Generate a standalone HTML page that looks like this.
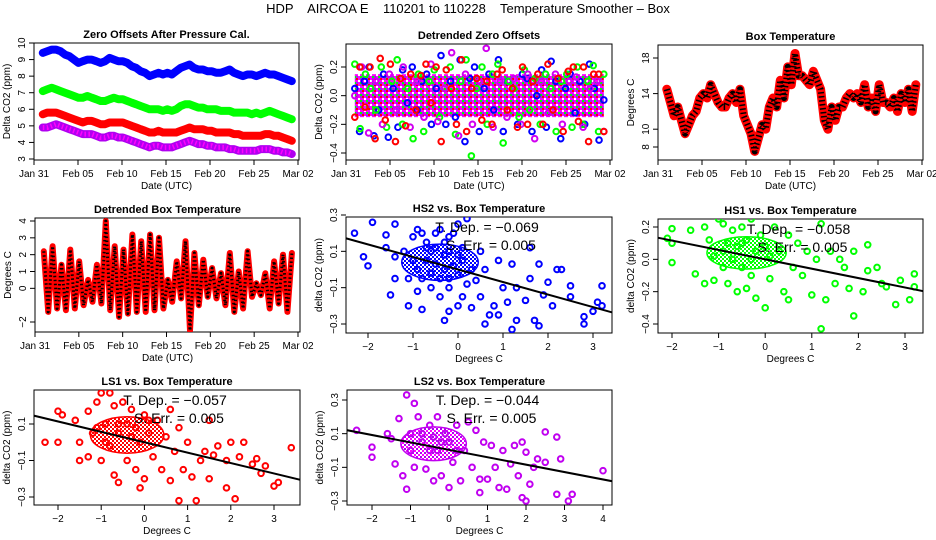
<!DOCTYPE html>
<html><head><meta charset="utf-8">
<style>
html,body{margin:0;padding:0;background:#fff;}
svg{display:block;font-family:"Liberation Sans",sans-serif;}
</style></head>
<body>
<svg id="chart" width="936" height="540" viewBox="0 0 936 540" xmlns="http://www.w3.org/2000/svg">
<defs>
<pattern id="chkPurple" width="6" height="6" patternUnits="userSpaceOnUse"><rect width="6" height="6" fill="#ff00ff"/><rect width="2" height="2" fill="#a020f0"/><rect x="4" y="2" width="2" height="2" fill="#fff"/><rect x="2" y="4" width="2" height="2" fill="#a020f0"/><rect x="2" y="0" width="2" height="2" fill="#ff0000"/><rect x="0" y="4" width="2" height="2" fill="#00ff00"/></pattern>
<pattern id="chkBlue" width="4" height="4" patternUnits="userSpaceOnUse"><rect width="4" height="4" fill="#fff"/><rect width="2" height="2" fill="#0000ff"/><rect x="2" y="2" width="2" height="2" fill="#0000ff"/></pattern>
<pattern id="chkGreen" width="4" height="4" patternUnits="userSpaceOnUse"><rect width="4" height="4" fill="#fff"/><rect width="2" height="2" fill="#00ff00"/><rect x="2" y="2" width="2" height="2" fill="#00ff00"/></pattern>
<pattern id="chkRed" width="4" height="4" patternUnits="userSpaceOnUse"><rect width="4" height="4" fill="#fff"/><rect width="2" height="2" fill="#ff0000"/><rect x="2" y="2" width="2" height="2" fill="#ff0000"/></pattern>
<pattern id="chkPurp2" width="4" height="4" patternUnits="userSpaceOnUse"><rect width="4" height="4" fill="#fff"/><rect width="2" height="2" fill="#b000f0"/><rect x="2" y="2" width="2" height="2" fill="#ff00ff"/></pattern>
</defs>
<text x="468" y="13" font-size="13" text-anchor="middle" style="white-space:pre">HDP    AIRCOA E    110201 to 110228    Temperature Smoother – Box</text>
</svg>
<script>
// ---------- data ----------
const tsBlue = [9.4,9.5,9.6,9.6,9.5,9.3,9.2,9.0,8.8,8.9,9.0,9.0,8.9,8.8,8.9,9.1,9.0,8.9,8.9,8.8,8.6,8.5,8.3,8.2,8.0,8.1,8.2,8.1,8.2,8.1,8.3,8.5,8.6,8.7,8.5,8.4,8.4,8.3,8.3,8.2,8.2,8.3,8.4,8.2,8.1,8.0,8.1,8.1,8.0,8.1,8.2,8.1,8.1,8.0,7.9,7.8,7.7];
const tsGreen = [7.1,7.2,7.3,7.2,7.1,7.0,6.9,6.8,6.7,6.7,6.8,6.7,6.6,6.5,6.5,6.6,6.7,6.6,6.6,6.5,6.4,6.3,6.2,6.1,6.0,6.0,6.0,5.9,6.0,5.9,6.0,6.2,6.3,6.3,6.2,6.1,6.1,6.0,6.0,6.0,5.9,5.9,5.9,5.8,5.8,5.8,5.8,5.7,5.8,5.7,5.8,5.9,5.8,5.7,5.6,5.5,5.4];
const tsRed = [5.7,5.8,5.8,5.8,5.7,5.6,5.5,5.4,5.3,5.2,5.3,5.3,5.2,5.1,5.1,5.2,5.2,5.2,5.2,5.1,5.0,4.9,4.8,4.7,4.6,4.6,4.7,4.6,4.6,4.6,4.6,4.7,4.8,4.9,4.8,4.8,4.8,4.7,4.7,4.6,4.6,4.6,4.6,4.5,4.5,4.4,4.4,4.4,4.4,4.4,4.5,4.5,4.4,4.4,4.3,4.2,4.1];
const tsPurple = [4.9,4.9,5.0,5.1,5.0,4.9,4.8,4.7,4.6,4.5,4.5,4.5,4.4,4.3,4.3,4.4,4.4,4.3,4.3,4.2,4.1,4.0,3.9,3.8,3.7,3.8,3.8,3.7,3.7,3.7,3.8,3.9,4.0,4.1,4.0,3.9,3.9,3.8,3.8,3.7,3.7,3.7,3.6,3.6,3.5,3.5,3.5,3.5,3.5,3.6,3.6,3.6,3.5,3.5,3.4,3.4,3.3];
const dzBlue = [0.05,-0.25,0.1,0.2,-0.28,-0.1,0.15,-0.29,0.05,-0.22,0.18,-0.05,0.2,-0.1,0.1,0.15,-0.2,0.05,0.28,-0.2,0.1,-0.15,0.25,-0.32,0.12,0.2,-0.25,0.05,0.15,-0.1,0.25,-0.25,0.1,0.05,-0.2,0.15,0.12,-0.25,0.0,0.18,-0.22,0.24,0.1,-0.3,0.05,0.15,-0.12,0.1,-0.2,0.22,0.05,-0.31,-0.03];
const dzGreen = [0.22,-0.23,0.15,0.05,-0.1,0.2,-0.22,0.1,0.25,-0.2,0.05,-0.3,0.15,-0.25,0.1,0.18,-0.15,0.05,0.2,-0.27,0.1,0.25,-0.42,0.05,0.2,-0.2,0.15,0.22,-0.33,0.1,0.05,-0.15,0.18,-0.1,0.12,-0.2,0.15,0.05,-0.25,0.1,0.15,-0.22,0.2,-0.2,0.1,0.21,-0.25,0.15];
const dzRed = [-0.15,0.2,-0.08,0.2,-0.3,0.26,-0.17,0.22,-0.32,0.12,-0.21,0.15,-0.1,0.14,0.22,-0.05,0.2,-0.32,0.18,0.05,-0.2,0.25,-0.25,0.05,0.12,-0.17,0.1,-0.2,0.15,0.18,-0.1,0.05,-0.22,0.2,-0.2,0.1,0.15,-0.2,0.22,-0.1,0.12,-0.25,0.17,0.2,-0.18,0.2,-0.32,0.15,0.15,-0.25];
const dzPurple = [0.0,0.2,-0.26,0.1,-0.2,0.15,-0.1,0.2,-0.22,0.1,-0.15,0.22,-0.18,0.05,0.3,-0.28,0.15,-0.2,0.1,0.33,-0.22,0.1,-0.15,0.12,-0.2,0.15,-0.3,0.1,-0.12,0.15,-0.2,0.1,0.13,-0.22,0.05,0.1,-0.25];
const boxTemp = [14.5,13,11.5,12.5,11,9.5,10.5,11.5,12,13.5,14,13.5,15,14,13,12.5,12.5,13.5,14,13,14.5,11.5,10.5,9.5,7.5,9,10.5,10,12.5,13.5,12.5,15.5,13.5,17,15,18.5,16,16,15.5,15,16.5,15.5,14.5,11,10,12.5,11,12.5,12.5,13.5,14,13.5,14,13,15,12.5,13.5,12,15,13,13,12.5,13.5,12,14,13,14.5,12,15];
const detTemp = [2.2,-1.4,2.5,-1.2,1.4,-1.3,2.3,-1.2,1.6,-1.0,0.5,-0.8,1.4,-0.9,4.0,-1.3,2.5,-1.7,2.3,-1.5,3.2,-1.4,2.8,-1.4,3.2,-1.3,3.0,-1.2,0.5,-0.8,1.6,-0.6,2.8,-2.5,2.1,-1.0,1.7,-0.5,1.2,-0.6,0.9,-1.0,2.1,-1.4,1.0,-1.2,2.2,-0.5,0.3,-0.4,0.9,-1.2,1.6,-0.9,2.0,-1.4,2.1];
const dateTicks = ["Jan 31","Feb 05","Feb 10","Feb 15","Feb 20","Feb 25","Mar 02"];
const dateTickDays = [0,5,10,15,20,25,30];

const hs2X = [-2.3,-1.9,-2.1,-2.0,-1.6,-1.6,-1.4,-1.4,-1.4,-1.5,-1.1,-0.8,-1.2,-1.0,-0.9,-0.8,-0.7,-0.6,-0.5,-0.4,-0.3,-0.2,-0.1,0.0,0.2,-1.0,-0.9,-0.8,-0.7,-0.6,-0.5,-0.4,-0.3,-0.2,-0.1,0.0,0.1,0.2,-0.6,-0.4,-0.2,0.1,-0.3,-0.2,0.0,0.3,0.5,0.5,0.6,0.6,0.7,0.8,0.9,1.0,1.1,1.2,1.3,1.3,1.5,1.6,1.6,1.7,1.8,1.8,1.9,2.0,2.1,2.2,2.3,2.5,2.5,2.8,2.8,3.0,3.1,3.2,3.2,1.2,0.9,-0.5,-0.7,-0.3,0.1,0.3,0.4,-1.1,-0.9,0.0,-0.2];
const hs2Y = [0.2,0.26,0.07,0.02,0.19,0.12,0.25,0.07,-0.05,-0.14,-0.2,-0.22,0.1,0.18,0.22,0.2,0.15,0.1,0.2,0.22,0.15,0.1,0.2,0.25,0.28,0.05,0.0,-0.05,0.05,-0.02,0.03,-0.05,0.0,-0.05,0.02,-0.03,0.05,-0.08,-0.1,-0.15,-0.1,-0.15,-0.28,-0.23,-0.2,-0.21,-0.15,0.1,0.0,-0.3,-0.25,-0.2,0.05,-0.1,-0.18,0.03,-0.1,-0.28,-0.17,-0.05,0.12,-0.28,0.03,-0.31,-0.14,-0.07,-0.2,0.0,0.0,-0.09,-0.15,-0.26,-0.3,-0.23,-0.18,-0.09,-0.2,-0.33,-0.25,0.12,0.12,0.08,0.12,0.0,-0.06,-0.05,-0.12,0.08,0.18];
const hs1X = [-2.1,-2.0,-2.0,-2.0,-1.6,-1.5,-1.3,-1.3,-1.2,-1.1,-1.0,-0.9,-0.9,-0.8,-0.7,-0.7,-0.6,-0.5,-0.5,-0.4,-0.4,-0.3,-0.3,-0.2,-0.2,-0.1,0.0,0.0,0.1,0.2,0.3,0.4,0.5,0.5,0.6,0.7,0.8,0.9,1.0,1.1,1.2,1.2,1.3,1.4,1.5,1.6,1.7,1.8,1.9,1.9,2.1,2.2,2.2,2.4,2.5,2.6,2.8,2.9,3.1,3.2,3.2,-0.8,-0.6,-1.1,-0.3,0.1,-0.5,-0.9];
const hs1Y = [0.13,0.19,0.1,-0.02,0.18,-0.09,0.2,-0.15,0.12,-0.13,0.25,0.22,0.05,-0.15,0.18,0.0,-0.2,0.2,-0.05,0.12,-0.18,0.25,-0.1,0.05,-0.24,0.15,-0.3,0.08,-0.12,0.2,0.05,-0.2,0.15,-0.25,-0.05,0.1,-0.1,0.05,-0.22,0.0,0.22,-0.43,-0.25,0.05,-0.15,0.0,-0.05,-0.18,-0.35,0.05,-0.2,0.09,-0.07,-0.05,-0.15,-0.17,-0.28,-0.13,-0.25,-0.09,-0.17,0.1,0.08,0.02,0.0,0.02,0.1,-0.05];
const ls1X = [-2.3,-2.0,-2.0,-1.9,-1.6,-1.5,-1.5,-1.3,-1.3,-1.2,-1.1,-1.0,-1.0,-0.9,-0.8,-0.8,-0.7,-0.7,-0.6,-0.6,-0.5,-0.4,-0.4,-0.3,-0.2,-0.1,-0.1,0.0,0.0,0.1,0.2,0.3,0.4,0.5,0.6,0.6,0.7,0.8,0.8,0.9,1.0,1.1,1.2,1.3,1.4,1.5,1.5,1.6,1.7,1.9,1.9,2.0,2.1,2.2,2.3,2.5,2.6,2.7,2.8,3.0,3.1,3.4,-0.9,-0.6,-0.3,0.1,-1.1,-0.2];
const ls1Y = [0.0,0.0,0.17,0.15,0.12,0.0,-0.1,0.17,-0.08,0.05,0.22,0.27,-0.1,0.1,0.27,-0.02,0.2,-0.18,0.05,-0.22,0.22,0.1,-0.1,0.18,-0.15,0.0,-0.25,0.15,-0.2,0.05,-0.08,0.12,-0.15,0.03,0.18,-0.21,-0.05,-0.32,0.08,-0.15,0.0,-0.19,-0.32,-0.1,-0.05,-0.2,0.12,-0.07,-0.02,-0.1,-0.25,0.0,-0.31,-0.08,0.0,-0.12,-0.09,-0.17,-0.13,-0.24,-0.22,-0.03,0.0,0.1,0.03,0.12,0.08,0.08];
const ls2X = [-2.4,-2.0,-2.0,-1.6,-1.5,-1.4,-1.3,-1.2,-1.1,-1.1,-1.0,-0.9,-0.9,-0.8,-0.7,-0.6,-0.5,-0.4,-0.3,-0.3,-0.2,-0.1,0.0,0.0,0.1,0.2,0.3,0.4,0.5,0.6,0.7,0.8,0.8,0.9,1.0,1.1,1.2,1.3,1.4,1.5,1.6,1.7,1.8,1.9,1.9,2.0,2.0,2.1,2.2,2.3,2.5,2.5,2.8,2.8,2.9,3.1,3.2,4.0,-0.7,-0.5,-0.2,0.2,-1.0,-0.4];
const ls2Y = [0.12,0.02,-0.04,0.1,0.07,-0.08,0.19,-0.15,0.33,-0.23,0.1,0.28,-0.1,0.2,0.05,-0.11,0.15,-0.18,0.2,0.0,-0.15,0.1,-0.22,0.05,-0.07,0.15,-0.18,0.0,0.17,-0.1,0.12,-0.17,-0.25,0.05,-0.17,0.03,-0.1,-0.22,0.0,-0.23,-0.08,0.03,-0.15,0.05,-0.28,-0.3,-0.01,-0.2,-0.1,-0.05,0.11,-0.07,0.08,-0.26,-0.05,-0.3,-0.26,-0.12,0.1,0.0,0.05,0.0,0.0,0.08];
const slopes = [-0.069,-0.058,-0.057,-0.044];
const intercepts = [0.0,0.0,0.0,0.004];
const slopeLabels = ["−0.069","−0.058","−0.057","−0.044"];
const errLabels = ["0.005","0.005","0.005","0.005"];

// ---------- helpers ----------
const NS = "http://www.w3.org/2000/svg";
const svg = document.getElementById('chart');
function mk(tag, attrs, parent){
  const e = document.createElementNS(NS, tag);
  for (const k in attrs) e.setAttribute(k, attrs[k]);
  (parent||svg).appendChild(e);
  return e;
}
function lin(d0,p0,d1,p1){ return v => p0 + (v-d0)*(p1-p0)/(d1-d0); }

function panel(name, L, T, R, B, xs, ys, xTicks, xTickLabels, yTicks, title, xTitle, yTitle){
  const g = mk('g', {});
  
  
  const t = mk('text', {x:(L+R)/2, y:T-5, 'font-size':11, 'font-weight':'bold', 'text-anchor':'middle'}, g);
  t.textContent = title;
  
  
  const box = mk('rect', {x:L, y:T, width:R-L, height:B-T, fill:'none', stroke:'#000', 'stroke-width':1}, g);
  
  
  const xa = mk('g', {}, g);
  
  
  const x0 = xs(xTicks[0]), x1 = xs(xTicks[xTicks.length-1]);
  mk('line', {x1:x0, x2:x1, y1:B, y2:B, stroke:'#000'}, xa);
  xTicks.forEach((v,i)=>{
    const px = xs(v);
    mk('line', {x1:px, x2:px, y1:B, y2:B+5, stroke:'#000'}, xa);
    const tl = mk('text', {x:px, y:B+17, 'font-size':10, 'text-anchor':'middle'}, xa);
    tl.textContent = xTickLabels[i];
    
    
  });
  const xt = mk('text', {x:(L+R)/2, y:B+29, 'font-size':10, 'text-anchor':'middle'}, g);
  xt.textContent = xTitle;
  
  
  const ya = mk('g', {}, g);
  
  
  yTicks.forEach(v=>{
    const py = ys(v.v);
    mk('line', {x1:L-5, x2:L, y1:py, y2:py, stroke:'#000'}, ya);
    const tl = mk('text', {x:L-9, y:py, 'font-size':10, 'text-anchor':'middle', transform:`rotate(-90 ${L-9} ${py})`}, ya);
    tl.textContent = v.l;
    
    
  });
  const yt = mk('text', {x:L-24, y:(T+B)/2, 'font-size':10, 'text-anchor':'middle', transform:`rotate(-90 ${L-24} ${(T+B)/2})`}, g);
  yt.textContent = yTitle;
  
  
  const clipId = 'clip-' + name;
  const cp = mk('clipPath', {id:clipId}, g);
  mk('rect', {x:L, y:T, width:R-L, height:B-T}, cp);
  const plot = mk('g', {'clip-path':`url(#${clipId})`}, g);
  
  
  return plot;
}
function dayOf(i, n){ return 1 + i*28.3/(n-1); }
function band(plot, arr, xs, ys, color, w, name, dots){
  const pts = arr.map((v,i)=>xs(dayOf(i,arr.length)).toFixed(1)+','+ys(v).toFixed(1)).join(' ');
  const pl = mk('polyline', {points:pts, fill:'none', stroke:color, 'stroke-width':w, 'stroke-linejoin':'round', 'stroke-linecap':'round'}, plot);
  
  
  if (dots){
    const d = mk('polyline', {points:pts, fill:'none', stroke:dots, 'stroke-width':w-3, 'stroke-dasharray':'1.5 2.5', 'stroke-linejoin':'round'}, plot);
    
    
  }
}
function points(plot, xa, ya, xs, ys, color, name){
  xa.forEach((xv,i)=>{
    const c = mk('circle', {cx:xs(xv), cy:ys(ya[i]), r:2.8, fill:'none', stroke:color, 'stroke-width':2}, plot);
    
    
  });
}

// ---------- Panel 1 ----------
{
  const L=34,T=43,R=299,B=160;
  const xs = lin(0,L,30,L+264), ys = lin(3,159,10,43);
  const p = panel('zero-offsets-panel',L,T,R,B,xs,ys,dateTickDays,dateTicks,
    [3,4,5,6,7,8,9,10].map(v=>({v,l:String(v)})),'Zero Offsets After Pressure Cal.','Date (UTC)','Delta CO2 (ppm)');
  band(p, tsBlue, xs, ys, '#0000ff', 8, 'series-hs2');
  band(p, tsGreen, xs, ys, '#00ff00', 8, 'series-hs1');
  band(p, tsRed, xs, ys, '#ff0000', 8, 'series-ls1');
  band(p, tsPurple, xs, ys, '#b000f0', 8, 'series-ls2', '#ff00ff');
}
// ---------- Panel 2 ----------
{
  const L=346,T=44,R=612,B=160;
  const xs = lin(0,L,30,L+264), ys = lin(-0.4,153,0.2,67);
  const p = panel('detrended-zero-offsets-panel',L,T,R,B,xs,ys,dateTickDays,dateTicks,
    [{v:-0.4,l:'−0.4'},{v:-0.2,l:'−0.2'},{v:0,l:'0.0'},{v:0.2,l:'0.2'}],'Detrended Zero Offsets','Date (UTC)','Delta CO2 (ppm)');
  const bd = mk('rect', {x:xs(1), y:ys(0.15), width:xs(29.3)-xs(1), height:ys(-0.15)-ys(0.15), fill:'url(#chkPurple)'}, p);
  
  
  const d = (arr,c,n)=>arr.forEach((v,i)=>{ const e=mk('circle',{cx:xs(dayOf(i,arr.length)),cy:ys(v),r:2.8,fill:'none',stroke:c,'stroke-width':2},p);   });
  d(dzBlue,'#0000ff','point-hs2'); d(dzGreen,'#00ff00','point-hs1'); d(dzPurple,'#d000f0','point-ls2'); d(dzRed,'#ff0000','point-ls1');
}
// ---------- Panel 3 ----------
{
  const L=658,T=45,R=923,B=160;
  const xs = lin(0,L,30,L+264), ys = lin(8,147,18,58);
  const p = panel('box-temperature-panel',L,T,R,B,xs,ys,dateTickDays,dateTicks,
    [8,10,14,18].map(v=>({v,l:String(v)})),'Box Temperature','Date (UTC)','Degrees C');
  band(p, boxTemp, xs, ys, '#ff0000', 9, 'series-box-temperature', '#000');
}
// ---------- Panel 4 ----------
{
  const L=35,T=218,R=300,B=332;
  const xs = lin(0,L,30,L+263), ys = lin(-2,322,4,221);
  const p = panel('detrended-box-temperature-panel',L,T,R,B,xs,ys,dateTickDays,dateTicks,
    [{v:-2,l:'−2'},{v:0,l:'0'},{v:1,l:'1'},{v:2,l:'2'},{v:3,l:'3'},{v:4,l:'4'}],'Detrended Box Temperature','Date (UTC)','Degrees C');
  band(p, detTemp, xs, ys, '#ff0000', 6, 'series-detrended-temperature', '#000');
}
// ---------- scatter panels ----------
function scatter(name, L,T,R,B, xr, yr, xt, yt, xa, ya, color, pat, k, title){
  const xs = lin(xr[0],xr[1],xr[2],xr[3]), ys = lin(yr[0],yr[1],yr[2],yr[3]);
  const p = panel(name,L,T,R,B,xs,ys,xt,xt.map(v=>v<0?'−'+(-v):String(v)),yt,title,'Degrees C','delta CO2 (ppm)');
  const core = mk('ellipse', {cx:xs(-0.4), cy:ys(0.04), rx:xs(0.45)-xs(-0.4), ry:ys(-0.06)-ys(0.04), fill:`url(#${pat})`, stroke:color, 'stroke-width':1.5}, p);
  
  
  points(p, xa, ya, xs, ys, color, 'scatter-point');
  const xa0 = -3, xa1 = 5;
  const ln = mk('line', {x1:xs(xa0), y1:ys(intercepts[k]+slopes[k]*xa0), x2:xs(xa1), y2:ys(intercepts[k]+slopes[k]*xa1), stroke:'#000', 'stroke-width':2}, p);
  
  
  const cx = (L+R)/2 + 8;
  const a = mk('text', {x:cx, y:T+15, 'font-size':14, 'text-anchor':'middle'});
  a.textContent = 'T. Dep. =  ' + slopeLabels[k];
  
  
  const b = mk('text', {x:cx+4, y:T+33, 'font-size':14, 'text-anchor':'middle'});
  b.textContent = 'S. Err. =  ' + errLabels[k];
  
  
}
const t3 = [{v:-0.3,l:'−0.3'},{v:-0.1,l:'−0.1'},{v:0.1,l:'0.1'},{v:0.3,l:'0.3'}];
scatter('hs2-vs-box-temperature-panel',346,217,612,333,[-2,368,3,593],[-0.3,324,0.3,215],[-2,-1,0,1,2,3],t3,hs2X,hs2Y,'#0000ff','chkBlue',0,'HS2 vs. Box Temperature');
scatter('hs1-vs-box-temperature-panel',658,219,923,333,[-2,672,3,905],[-0.4,324,0.2,227],[-2,-1,0,1,2,3],
  [{v:-0.4,l:'−0.4'},{v:-0.2,l:'−0.2'},{v:0,l:'0.0'},{v:0.2,l:'0.2'}],hs1X,hs1Y,'#00ff00','chkGreen',1,'HS1 vs. Box Temperature');
scatter('ls1-vs-box-temperature-panel',34,390,300,505,[-2,58,3,274],[-0.3,497,0.1,424],[-2,-1,0,1,2,3],
  [{v:-0.3,l:'−0.3'},{v:-0.1,l:'−0.1'},{v:0.1,l:'0.1'}],ls1X,ls1Y,'#ff0000','chkRed',2,'LS1 vs. Box Temperature');
scatter('ls2-vs-box-temperature-panel',347,390,612,505,[-2,372,4,603],[-0.3,501,0.3,400],[-2,-1,0,1,2,3,4],t3,ls2X,ls2Y,'#c000f0','chkPurp2',3,'LS2 vs. Box Temperature');
</script>
</body></html>
